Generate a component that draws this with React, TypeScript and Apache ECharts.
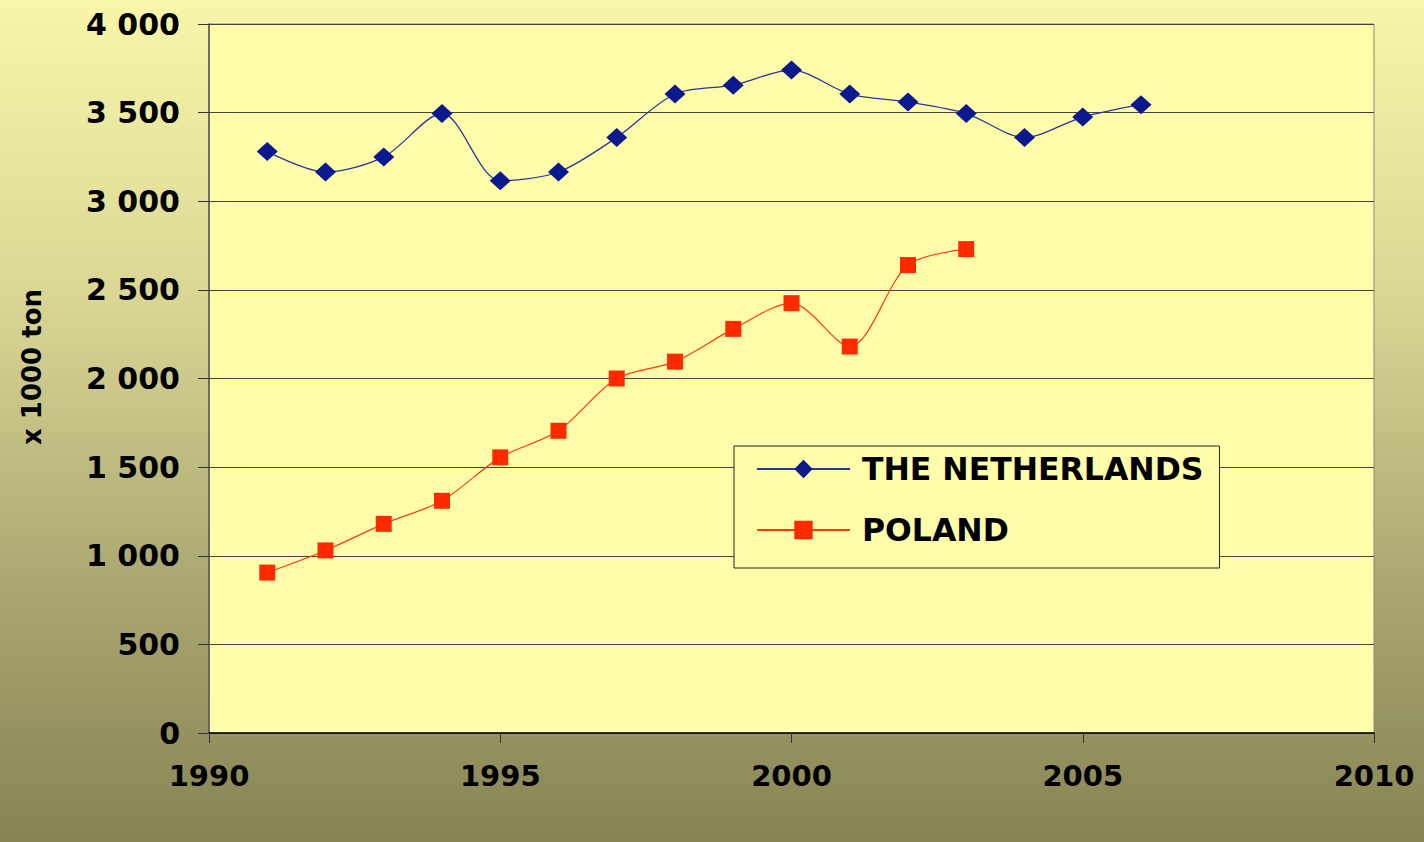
import React, { useEffect, useRef } from "react";
import * as echarts from "echarts";

const years = [1991, 1992, 1993, 1994, 1995, 1996, 1997, 1998, 1999, 2000, 2001, 2002, 2003, 2004, 2005, 2006];
const netherlands = [3280, 3165, 3250, 3495, 3115, 3165, 3360, 3605, 3655, 3740, 3605, 3560, 3495, 3360, 3475, 3545];
const polandYears = [1991, 1992, 1993, 1994, 1995, 1996, 1997, 1998, 1999, 2000, 2001, 2002, 2003];
const poland = [905, 1030, 1180, 1310, 1555, 1705, 2000, 2095, 2280, 2425, 2180, 2640, 2730];
const seriesNames = ["THE NETHERLANDS", "POLAND"];
const yAxisTitle = "x 1000 ton";

const FONT = "DejaVu Sans";

export default function App() {
  const ref = useRef<HTMLDivElement>(null);
  useEffect(() => {
    const chart = echarts.init(ref.current!, null, { renderer: "svg" });
    chart.setOption({
      animation: false,
      backgroundColor: new echarts.graphic.LinearGradient(0, 0, 0, 1, [
        { offset: 0, color: "#F8F6A8" },
        { offset: 0.35, color: "#DAD795" },
        { offset: 0.7, color: "#A9A671" },
        { offset: 1, color: "#878456" },
      ]),
      grid: {
        left: 209,
        right: 50,
        top: 24,
        bottom: 109,
        outerBoundsMode: "none",
        containLabel: false,
        show: true,
        backgroundColor: "#FFFDA9",
        borderColor: "#8a8a80",
        borderWidth: 1,
      },
      graphic: [
        {
          type: "text",
          x: 32,
          y: 367,
          rotation: Math.PI / 2,
          style: {
            text: yAxisTitle,
            fontFamily: FONT,
            fontWeight: "bold",
            fontSize: 26,
            fill: "#000",
            align: "center",
            verticalAlign: "middle",
          },
        },
      ],
      legend: {
        orient: "vertical",
        left: 734,
        top: 446,
        padding: [5, 16, 20, 22],
        itemGap: 25,
        itemWidth: 93,
        itemHeight: 23,
        backgroundColor: "#FFFDA9",
        borderColor: "#222",
        borderWidth: 1,
        textStyle: {
          fontFamily: FONT,
          fontWeight: "bold",
          fontSize: 31.5,
          lineHeight: 36,
          color: "#000",
          padding: [0, 0, 0, 7],
        },
        data: seriesNames,
      },
      xAxis: {
        type: "value",
        min: 1990,
        max: 2010,
        interval: 5,
        axisLine: { show: true, lineStyle: { color: "#000", width: 1.5 } },
        axisTick: { show: true, length: 10, inside: false, lineStyle: { color: "#333" } },
        splitLine: { show: false },
        axisLabel: {
          margin: 28,
          fontFamily: FONT,
          fontWeight: "bold",
          fontSize: 29,
          color: "#000",
          formatter: (v: number) => String(v),
        },
      },
      yAxis: {
        type: "value",
        min: 0,
        max: 4000,
        interval: 500,
        axisLine: { show: true, lineStyle: { color: "#555", width: 1.5 } },
        axisTick: { show: true, length: 11, lineStyle: { color: "#333" } },
        splitLine: { show: true, lineStyle: { color: "#444", width: 1 } },
        axisLabel: {
          margin: 29,
          fontFamily: FONT,
          fontWeight: "bold",
          fontSize: 30,
          color: "#000",
          formatter: (v: number) => String(v).replace(/\B(?=(\d{3})+(?!\d))/g, " "),
        },
      },
      series: [
        {
          name: seriesNames[0],
          type: "line",
          smooth: 0.3,
          data: years.map((y, i) => [y, netherlands[i]]),
          symbol: "diamond",
          symbolSize: [21, 19],
          itemStyle: { color: "#0A1A8E" },
          lineStyle: { color: "#2838A0", width: 1.3 },
        },
        {
          name: seriesNames[1],
          type: "line",
          smooth: 0.3,
          data: polandYears.map((y, i) => [y, poland[i]]),
          symbol: "rect",
          symbolSize: 16,
          itemStyle: { color: "#FF2A00" },
          lineStyle: { color: "#FF3A10", width: 1.2 },
        },
      ],
    });
    return () => chart.dispose();
  }, []);
  return (
    <div
      ref={ref}
      style={{ position: "fixed", left: 0, top: 0, width: 1424, height: 842 }}
    />
  );
}
